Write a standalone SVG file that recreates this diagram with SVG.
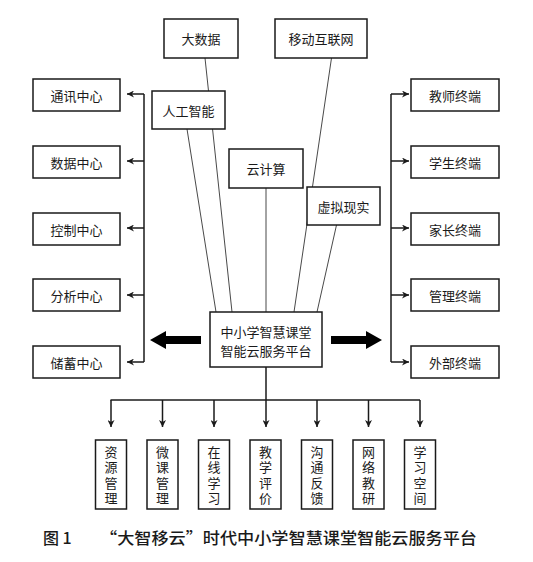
<svg xmlns="http://www.w3.org/2000/svg" width="533" height="562" viewBox="0 0 533 562">
<defs>
<marker id="ah" viewBox="0 0 10 10" refX="10" refY="5" markerWidth="7" markerHeight="7" markerUnits="userSpaceOnUse" orient="auto">
<path d="M0,0 L10,5 L0,10 L3,5 Z" fill="#1a1a1a"/>
</marker>
<style>
.box{fill:#fff;stroke:#1a1a1a;stroke-width:1.5}
.t{font-family:"Noto Sans CJK SC","Noto Sans",sans-serif;font-size:13px;fill:#1a1a1a;text-anchor:middle;dominant-baseline:central}
.v{font-family:"Noto Sans CJK SC","Noto Sans",sans-serif;font-size:13px;fill:#1a1a1a;writing-mode:vertical-rl;text-orientation:upright;letter-spacing:2.5px;text-anchor:start}
.thin{stroke:#1a1a1a;stroke-width:0.8;fill:none}
.conn{stroke:#1a1a1a;stroke-width:1.5;fill:none}
.arr{stroke:#1a1a1a;stroke-width:1.5;fill:none;marker-end:url(#ah)}
.cap{font-family:"Noto Sans CJK SC","Noto Sans",sans-serif;font-size:16px;font-weight:500;fill:#1a1a1a;dominant-baseline:central}
</style>
</defs>
<rect width="533" height="562" fill="#fff"/>
<g id="connectors">
<line class="thin" x1="205" y1="58" x2="232" y2="312"/>
<line class="thin" x1="187" y1="129" x2="216" y2="312"/>
<line class="thin" x1="331.5" y1="58" x2="294" y2="312"/>
<line class="thin" x1="266" y1="188" x2="266" y2="312"/>
<line class="thin" x1="336.5" y1="225" x2="317" y2="312"/>
<line class="conn" x1="144" y1="94" x2="144" y2="362"/>
<line class="arr" x1="144" y1="94" x2="127" y2="94"/>
<line class="arr" x1="144" y1="161" x2="127" y2="161"/>
<line class="arr" x1="144" y1="228" x2="127" y2="228"/>
<line class="arr" x1="144" y1="295" x2="127" y2="295"/>
<line class="arr" x1="144" y1="362" x2="127" y2="362"/>
<line class="conn" x1="391" y1="94" x2="391" y2="362"/>
<line class="arr" x1="391" y1="94" x2="409" y2="94"/>
<line class="arr" x1="391" y1="161" x2="409" y2="161"/>
<line class="arr" x1="391" y1="228" x2="409" y2="228"/>
<line class="arr" x1="391" y1="295" x2="409" y2="295"/>
<line class="arr" x1="391" y1="362" x2="409" y2="362"/>
<path d="M201,336 L166,336 L166,331 L150,340 L166,349 L166,344 L201,344 Z" fill="#000"/>
<path d="M331,336 L366,336 L366,331 L382,340 L366,349 L366,344 L331,344 Z" fill="#000"/>
<line class="conn" x1="266" y1="367" x2="266" y2="400"/>
<line class="conn" x1="110.5" y1="400" x2="420" y2="400"/>
<line class="arr" x1="111" y1="400" x2="111" y2="427"/>
<line class="arr" x1="162.5" y1="400" x2="162.5" y2="427"/>
<line class="arr" x1="214" y1="400" x2="214" y2="427"/>
<line class="arr" x1="266" y1="400" x2="266" y2="427"/>
<line class="arr" x1="317" y1="400" x2="317" y2="427"/>
<line class="arr" x1="368.5" y1="400" x2="368.5" y2="427"/>
<line class="arr" x1="420" y1="400" x2="420" y2="427"/>
</g>
<g id="n-dashuju"><rect class="box" x="164" y="19" width="74" height="39"/><text class="t" x="201" y="38.5">大数据</text></g>
<g id="n-yidong"><rect class="box" x="275" y="19" width="92" height="39"/><text class="t" x="321" y="38.5">移动互联网</text></g>
<g id="n-rengong"><rect class="box" x="152" y="91" width="73" height="38"/><text class="t" x="188.5" y="110">人工智能</text></g>
<g id="n-yunjisuan"><rect class="box" x="229" y="149" width="74" height="39"/><text class="t" x="266" y="168.5">云计算</text></g>
<g id="n-xuni"><rect class="box" x="307" y="187" width="73" height="38"/><text class="t" x="343.5" y="206">虚拟现实</text></g>
<g id="n-center"><rect class="box" x="210" y="312" width="112" height="55"/><text class="t"><tspan x="266" y="330.5">中小学智慧课堂</tspan><tspan x="266" y="350">智能云服务平台</tspan></text></g>
<g id="n-l1"><rect class="box" x="33" y="79" width="87" height="32"/><text class="t" x="76.5" y="95">通讯中心</text></g>
<g id="n-l2"><rect class="box" x="33" y="146" width="87" height="32"/><text class="t" x="76.5" y="162">数据中心</text></g>
<g id="n-l3"><rect class="box" x="33" y="213" width="87" height="32"/><text class="t" x="76.5" y="229">控制中心</text></g>
<g id="n-l4"><rect class="box" x="33" y="279" width="87" height="32"/><text class="t" x="76.5" y="295">分析中心</text></g>
<g id="n-l5"><rect class="box" x="33" y="346" width="87" height="32"/><text class="t" x="76.5" y="362">储蓄中心</text></g>
<g id="n-r1"><rect class="box" x="411" y="79" width="88" height="32"/><text class="t" x="455" y="95">教师终端</text></g>
<g id="n-r2"><rect class="box" x="411" y="146" width="88" height="32"/><text class="t" x="455" y="162">学生终端</text></g>
<g id="n-r3"><rect class="box" x="411" y="213" width="88" height="32"/><text class="t" x="455" y="229">家长终端</text></g>
<g id="n-r4"><rect class="box" x="411" y="279" width="88" height="32"/><text class="t" x="455" y="295">管理终端</text></g>
<g id="n-r5"><rect class="box" x="411" y="346" width="88" height="32"/><text class="t" x="455" y="362">外部终端</text></g>
<g id="n-b1"><rect class="box" x="95.5" y="440" width="31" height="69"/><text class="v" x="111" y="445.5">资源管理</text></g>
<g id="n-b2"><rect class="box" x="147" y="440" width="31" height="69"/><text class="v" x="162.5" y="445.5">微课管理</text></g>
<g id="n-b3"><rect class="box" x="198.5" y="440" width="31" height="69"/><text class="v" x="214" y="445.5">在线学习</text></g>
<g id="n-b4"><rect class="box" x="250" y="440" width="31" height="69"/><text class="v" x="265.5" y="445.5">教学评价</text></g>
<g id="n-b5"><rect class="box" x="301.5" y="440" width="31" height="69"/><text class="v" x="317" y="445.5">沟通反馈</text></g>
<g id="n-b6"><rect class="box" x="353" y="440" width="31" height="69"/><text class="v" x="368.5" y="445.5">网络教研</text></g>
<g id="n-b7"><rect class="box" x="404.5" y="440" width="31" height="69"/><text class="v" x="420" y="445.5">学习空间</text></g>
<g id="caption"><text class="cap" x="43" y="537">图 1</text><text class="cap" x="100" y="537" textLength="377" lengthAdjust="spacingAndGlyphs">“大智移云”时代中小学智慧课堂智能云服务平台</text></g>
</svg>
